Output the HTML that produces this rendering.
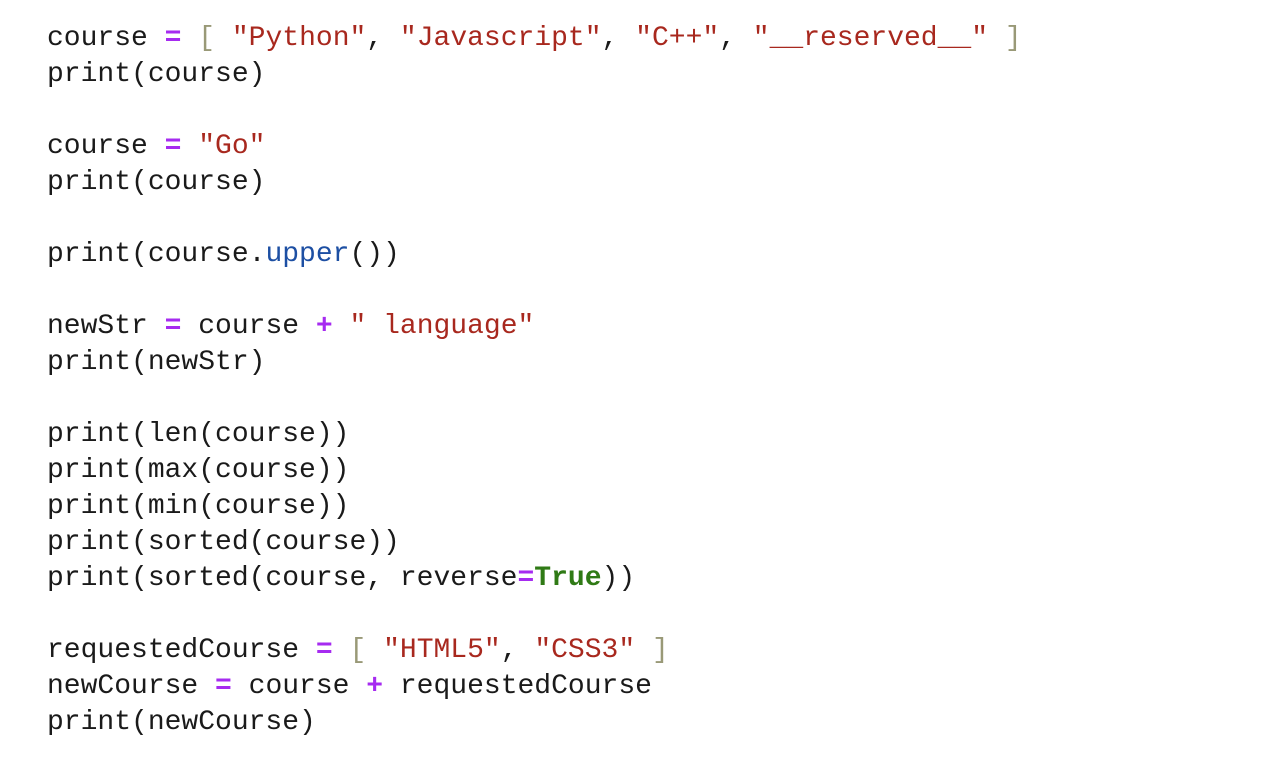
<!DOCTYPE html>
<html><head><meta charset="utf-8"><style>
html,body{margin:0;padding:0;background:#fff;width:1262px;height:772px;overflow:hidden}
pre{margin:0;padding:21px 0 0 47px;font-family:"Liberation Mono",monospace;font-size:28px;line-height:36px;color:#1a1a1a}
.o{color:#a62bf0;font-weight:bold}.b{color:#999977}.s{color:#a8281e}.f{color:#1d4fa3}.t{color:#2f7a15;font-weight:bold}
</style></head><body><pre>course <span class="o">=</span> <span class="b">[</span> <span class="s">"Python"</span>, <span class="s">"Javascript"</span>, <span class="s">"C++"</span>, <span class="s">"__reserved__"</span> <span class="b">]</span>
print(course)

course <span class="o">=</span> <span class="s">"Go"</span>
print(course)

print(course.<span class="f">upper</span>())

newStr <span class="o">=</span> course <span class="o">+</span> <span class="s">" language"</span>
print(newStr)

print(len(course))
print(max(course))
print(min(course))
print(sorted(course))
print(sorted(course, reverse<span class="o">=</span><span class="t">True</span>))

requestedCourse <span class="o">=</span> <span class="b">[</span> <span class="s">"HTML5"</span>, <span class="s">"CSS3"</span> <span class="b">]</span>
newCourse <span class="o">=</span> course <span class="o">+</span> requestedCourse
print(newCourse)</pre></body></html>
